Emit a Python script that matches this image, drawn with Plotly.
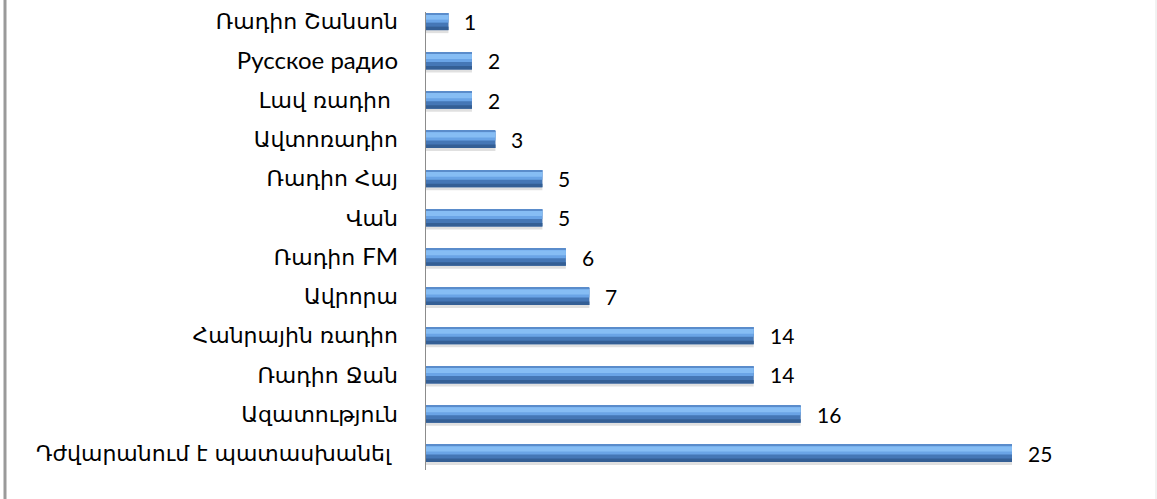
import plotly.graph_objects as go

SANS = "Lato, Liberation Sans, sans-serif"

categories = [
    "Դժվարանում է պատասխանել\u00a0",
    "Ազատություն",
    "Ռադիո Ջան",
    "Հանրային ռադիո",
    "Ավրորա",
    "Ռադիո FM",
    "Վան",
    "Ռադիո Հայ",
    "Ավտոռադիո",
    "Լավ ռադիո\u00a0",
    "Русское радио",
    "Ռադիո Շանսոն",
]
values = [25, 16, 14, 14, 7, 6, 5, 5, 3, 2, 2, 1]

W, H = 1157, 499
ML, MR, MT, MB = 425, 0, 2, 26
plot_h = H - MT - MB
u = len(categories) / plot_h  # data units per pixel along category axis
pos = list(range(len(categories)))


def styled(label):
    # Latin / Cyrillic runs in a sans face, Armenian in the base face
    out, run, run_sans = [], "", None
    for ch in label:
        is_sans = ("A" <= ch <= "Z") or ("a" <= ch <= "z") or ("\u0400" <= ch <= "\u04ff")
        if ch in " \u00a0":
            is_sans = run_sans if run_sans is not None else False
        if run_sans is None or is_sans == run_sans:
            run += ch
        else:
            out.append((run, run_sans))
            run = ch
        run_sans = is_sans
    out.append((run, run_sans))
    html = ""
    for txt, s in out:
        if s:
            html += f'<span style="font-family:{SANS};font-size:24px">{txt}</span>'
        else:
            html += txt
    return html


fig = go.Figure()

layers = [
    (-6.0, 11.5, "rgba(0,0,0,0.12)"),
    (-8.5, 8.5, "#4577b6"),
    (-8.5, 1.0, "#6aa4e6"),
    (-7.0, -2.0, "#86bdf4"),
    (-8.5, -7.5, "#5a8ccb"),
    (5.0, 8.5, "#345f95"),
]
for t, b, c in layers:
    fig.add_trace(go.Bar(
        y=pos, x=values, orientation="h",
        offset=-b * u, width=(b - t) * u,
        marker=dict(color=c, line=dict(width=0)),
        hoverinfo="skip", showlegend=False,
    ))

for v, p in zip(values, pos):
    fig.add_annotation(x=v, y=p, text=str(v), showarrow=False,
                       xanchor="left", xshift=14,
                       font=dict(family=SANS, size=21, color="#000"))

xmax = (W - ML - MR) / ((1012 - 425) / 25)

fig.update_layout(
    width=W, height=H,
    margin=dict(l=ML, r=MR, t=MT, b=MB),
    paper_bgcolor="white", plot_bgcolor="white",
    barmode="overlay",
    xaxis=dict(range=[0, xmax], visible=False, fixedrange=True),
    yaxis=dict(
        range=[-0.5, len(categories) - 0.5],
        tickmode="array", tickvals=pos, ticktext=[styled(c) for c in categories],
        ticks="", showgrid=False, zeroline=False, showline=False,
        ticklabelstandoff=26,
        tickfont=dict(family="DejaVu Sans, sans-serif", size=22, color="#000"),
        fixedrange=True,
    ),
    shapes=[
        dict(type="line", xref="x", yref="paper", x0=0, x1=0,
             y0=(H - MB - 470) / plot_h, y1=(H - MB - 12) / plot_h,
             line=dict(color="#8c8c8c", width=2)),
        dict(type="line", xref="paper", yref="paper",
             x0=(5 - ML) / (W - ML - MR), x1=(5 - ML) / (W - ML - MR),
             y0=-MB / plot_h, y1=1 + MT / plot_h,
             line=dict(color="#9a9a9a", width=3)),
        dict(type="line", xref="paper", yref="paper",
             x0=(1156 - ML) / (W - ML - MR), x1=(1156 - ML) / (W - ML - MR),
             y0=-MB / plot_h, y1=1 + MT / plot_h,
             line=dict(color="#e4e4e4", width=1)),
    ],
)

fig.write_html("out.html")
